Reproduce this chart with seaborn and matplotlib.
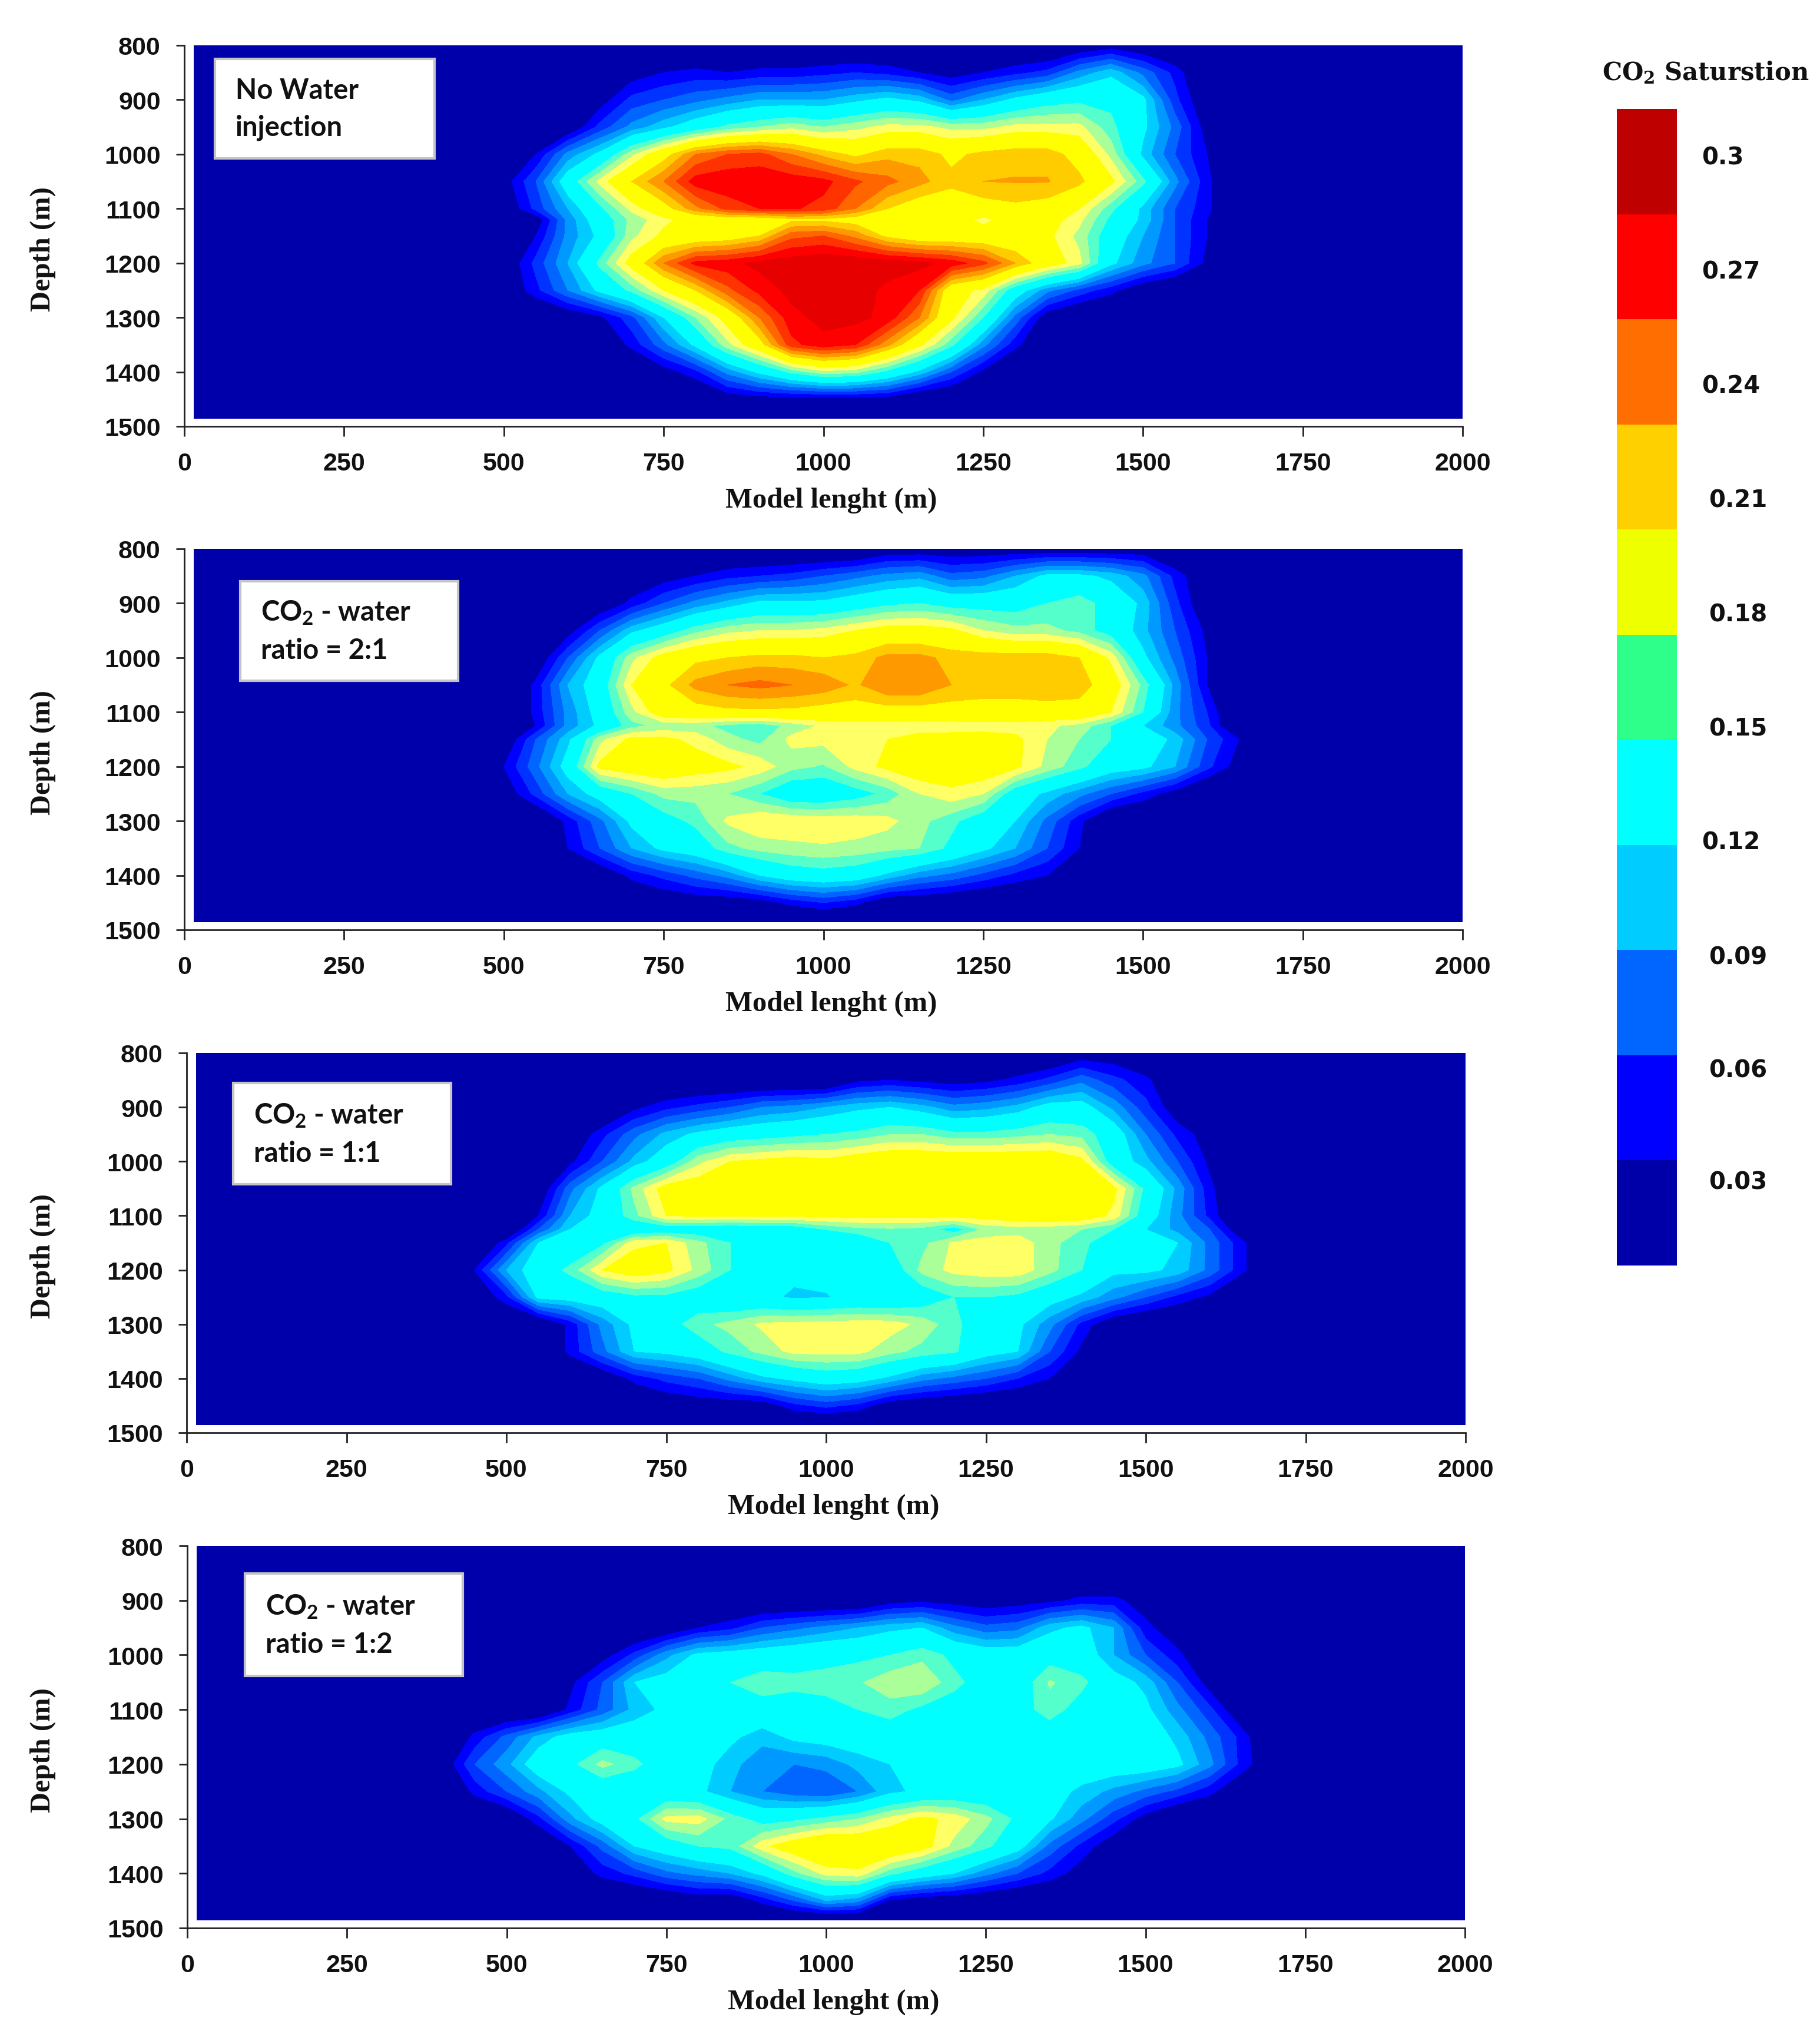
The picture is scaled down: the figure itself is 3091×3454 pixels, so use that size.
import numpy as np
import seaborn as sns
import matplotlib
matplotlib.use('Agg')
import matplotlib.pyplot as plt
from matplotlib.colors import ListedColormap
from matplotlib.patches import Rectangle

# Grid of the saturation maps (values below in percent saturation)
x_m = [400, 450, 500, 550, 600, 650, 700, 750, 800, 850, 900, 950, 1000, 1050,
       1100, 1150, 1200, 1250, 1300, 1350, 1400, 1450, 1500, 1550, 1600, 1650, 1700]
depth_no_water = [800, 850, 900, 950, 1000, 1050, 1100, 1120, 1150, 1200, 1250, 1300, 1350, 1400, 1450]
depth_2_1 = [800, 850, 900, 950, 1000, 1050, 1100, 1125, 1150, 1200, 1250, 1300, 1350, 1400, 1450]
depth_1_1 = [800, 850, 900, 950, 1000, 1050, 1100, 1125, 1150, 1200, 1250, 1300, 1350, 1400, 1450]
depth_1_2 = [800, 850, 900, 950, 1000, 1050, 1100, 1150, 1200, 1250, 1300, 1350, 1400, 1450]

no_water = [
    [0,0,0,0,0,0,0,0,0,0,0,0,0,0,0,0,0,0,0,0,1,2,1,0,0,0,0],
    [0,0,0,0,0,0,2,3,3.5,3,3.5,3.5,4,4.5,4,3,2,3,4,5,8,10,7,4,0,0,0],
    [0,0,0,0,0,2,5,6,7,8,9,9,9,10,11,10,7,9,11,12.5,13,13,11,5,1,0,0],
    [0,0,0,0,1,5,8,10,12,14,15,16,15,16,17,17,16,16,17,17,17,14,11,7,2,0,0],
    [0,0,0,3,8,11,16,20,24,25.5,26,24,22,20.5,22,22,20.5,21.5,22,22,20,16,10,6,3,0,0],
    [0,0,2,6,12,17,21,24,27.8,28.2,28.2,28,27.5,25.8,24.5,23,21.5,22.5,22.6,22.6,21.5,18.5,14,8,3.5,0,0],
    [0,0,1,5,9,13,17,20,23.5,26,27,27.2,26.5,24,21,19.5,19.5,20,20.5,20,18,14,10,6,3.5,0,0],
    [0,0,0,1.5,8,12,15.5,17.5,19,19.5,19.5,20.5,20.5,20,19,19,19,17.5,19,19,17,13,10,6,3,0,0],
    [0,0,0,3,8,11,16,18.5,19,19.5,21,25,25.5,23.5,20.5,19,19,19,19,18.5,16,12,9,6,3,0,0],
    [0,0,1,5,9,14,19,24,27.5,28,29,29.5,30,30,29.5,29,28,26,22.5,19.5,17,11,8,6,2.5,0,0],
    [0,0,1,4,7.5,11,14,18,21,25,27.5,29,30,29.5,28,27,19,17.5,12,8,5.5,3.5,1,0,0,0,0],
    [0,0,0,0,1,2.5,5.5,10.5,15,19,24,28,29,29,28,24,18.5,13.5,7,1.5,0,0,0,0,0,0,0],
    [0,0,0,0,0,0.5,3.5,7,11,16,20,26.5,28,27,23,18.5,14,8,3.5,0.5,0,0,0,0,0,0,0],
    [0,0,0,0,0,0,0,2,4,8,11,14,16,15.5,13,10,6,2.5,0,0,0,0,0,0,0,0,0],
    [0,0,0,0,0,0,0,0,0,1.5,2,2,2,2,2,0,0,0,0,0,0,0,0,0,0,0,0],
]

ratio_2_1 = [
    [0,0,0,0,0,0,0,0,0,0,0,0,0,0,1.5,1.5,1.5,1.5,1.5,1.5,1.5,1.5,1.5,0,0,0,0],
    [0,0,0,0,0,0,1,2,3,4,4.5,5,6,7,8,8.5,6.5,7,9,11,11,10,8,4,1,0,0],
    [0,0,0,0,0,1,3.5,6,8,9.5,11,11,11,12,13,13.5,12.5,12.5,12.5,13.5,14.5,12.5,10,5,1,0,0],
    [0,0,0,0,2,6,10,12,14.5,16,16.5,16.5,17,18,19,19,18.5,16.5,15.5,15.5,14.5,12.5,9.5,6,2.5,0,0],
    [0,0,0,1,6,11,16,19,20.5,21,21.5,21.5,21,21.5,23,23,22,22,22,22,21,17.5,11,7,3,0,0],
    [0,0,0,3.5,9,12,18,20.5,23,24,24.5,24,23.5,22.2,24,24,22.5,22,22,22.4,22,19.5,14.5,8.5,3,0,0],
    [0,0,0,3.5,8,11.5,16,19.5,20,20.5,20.5,20.5,20,20,20,20,20,20,20,20,20,18,13.5,8,4.5,0,0],
    [0,0,0,3,8,11,14.5,15.5,15.5,14.5,14,15.5,16.8,17,17,16.8,17,17.2,17.2,16.8,16,13.5,10.5,8,5,0,0],
    [0,0,1,6,10,16,18.5,18.5,17.5,15.5,14.5,17,17,17.3,18,19,19,19,18.5,16.5,15,13.5,12,10,6,3,0],
    [0,0,3,7,11.5,18.5,19.5,20,19,18.5,17.5,15.5,14.8,17,18.5,19.5,19.5,19.5,18.5,16,14,11.8,11,9,5,2,0],
    [0,0,1.5,5,9,11.5,13.5,15.5,15.5,15,13.5,11.5,11.5,12.5,14,16.5,17.5,16.5,12,10,8,6,4,2,0,0,0],
    [0,0,0,0,3.5,7,11,12.5,14,16.8,18,17.8,17.5,17.5,17,15.5,14,12,10.5,7,3.5,0,0,0,0,0,0],
    [0,0,0,0,3,6,9,11,12,14.5,15.5,16,16.3,16,15.5,15,13,11,9,6,3,0.5,0,0,0,0,0],
    [0,0,0,0,0,1,3.5,5,6.5,8,10.5,12,12.5,12,10,8,7,5.5,4,3,1,0,0,0,0,0,0],
    [0,0,0,0,0,0,0.5,1,1.5,1.5,2,3.5,4.5,3.5,1,1,0.5,0,0,0,0,0,0,0,0,0,0],
]

ratio_1_1 = [
    [0,0,0,0,0,0,0,0,0,0,0,0,0,0,0,0,0,0,0,0,1.5,1.5,0,0,0,0,0],
    [0,0,0,0,0,0,0,0,0,0,0,0,0,2.5,3,2.5,2,2.5,3.5,5,7,5,3.5,0,0,0,0],
    [0,0,0,0,0,0,2.5,4,5,6,7.5,8,9,10,10.5,9.5,8,8.5,9.5,11.5,11.5,8.5,5,1.5,0,0,0],
    [0,0,0,0,1,4,7,9.5,11,12,12.5,13,13.5,14,15,15,14,14,14.5,15,14.5,12,7.5,4,2,0,0],
    [0,0,0,0,2.5,6,9.5,12,16,18,18.5,19,18.5,19.5,20,20,20,20,20,20,18.5,12,9.5,6,2.5,0,0],
    [0,0,0,1,7,11,15.5,19,19.5,20,20,20,20,20,20,20,20,20,20,20,20,18.5,13,8.5,3.5,0,0],
    [0,0,0,3,9,11.5,14.5,18,18.3,18.3,18.3,18.3,18.5,18.5,18.5,18.5,18.6,18.8,19.5,20,19.5,17.5,12,8,4,0,0],
    [0,0,0,6,10.5,11.5,11.5,12,12,11.5,12,12,13.6,14.5,14.8,14.5,12.5,15.5,15.8,15.5,15,13.5,10.5,8.5,6,1,0],
    [0,0,4,10.5,11.5,13,17.5,18,15.5,13.5,11,11,11,11.5,13.5,14.5,16.8,17.2,17.5,15.5,14,12,11,10.5,7,3.5,0],
    [0,3,9,12,14,18,19.5,18.5,16,13.5,11,11,11,11,12,15.5,17,17.5,17.5,15.5,13.5,11,11,10,7,3.5,0],
    [0,1,4,11,11.5,12,13,13,12,11,11,10.2,10.4,11,10.8,12,13.5,13.5,13,11.5,10,8,6,4,2.5,0,0],
    [0,0,0,0,3.5,8,11,12.5,14.5,15.5,16.8,17,17.3,17.3,17.3,16,14,12,11,8,4,1,0,0,0,0,0],
    [0,0,0,0,3.5,7,10.5,11,12,14,15.5,17,17,17,15.5,14.5,13.8,11.5,10.5,6,2.5,0,0,0,0,0,0],
    [0,0,0,0,0,1,3.5,5,6,8,10,11,12,11.5,10,8,7,6,4.5,3,1,0,0,0,0,0,0],
    [0,0,0,0,0,0,0.5,1,1.5,1.5,1.5,4,5,4,1.5,1,0.5,0,0,0,0,0,0,0,0,0,0],
]

ratio_1_2 = [
    [0,0,0,0,0,0,0,0,0,0,0,0,0,0,0,0,0,0,0,0,0,0,0,0,0,0,0],
    [0,0,0,0,0,0,0,0,0,0,0,0,0,0,0,0,0,0,0,0,0,0,0,0,0,0,0],
    [0,0,0,0,0,0,0,0,0,0,0,0,0,0,2,2.5,2,1.5,2,2.5,3.5,3.5,2,0,0,0,0],
    [0,0,0,0,0,0,0,1,3,4,6,7,8,9,10,10.5,8,6.5,7,10,11,9,3.5,1.5,0,0,0],
    [0,0,0,0,0,2,5,8.5,11,11.5,12,12.5,13,13,13.5,14.5,13,12,12,12.5,12,9,6,3.5,0.5,0,0],
    [0,0,0,0,2.5,6,10.5,11.5,12.5,13.5,14.5,14,14,14.8,16,16.5,14,12.5,12,15.2,14,11.5,10,6,2,0,0],
    [0,0,0,0,3.5,6.5,9.5,11,12,12,12.5,12.5,13,13.5,14.3,13,12.5,12,12.5,14.4,12.5,12,11,8,5,1,0],
    [0,3.5,6.5,9.5,11.5,12,12,12,11.5,11,9.5,11,11.5,12,12,12,12,12,12,12,12,12,12,10,7,4,0],
    [1.5,6,8.5,12,13,15.5,14,12,11.5,9.5,8,7.5,8,9.5,10.5,11.5,12,12.5,12.5,12.5,12,12,12,11,8,4,1],
    [0,3.5,6,8.5,11,11.5,11.5,11.5,11,9,7.5,6.5,6,7.5,10,11,11.5,11.5,11.5,11.5,10,8.5,7,5.5,3.5,1,0],
    [0,0,0.5,4,8.5,11.5,13,17,17.2,14.5,12.5,13,14,15,17,18.5,17.5,15.5,13,10.8,8,5,2,0,0,0,0],
    [0,0,0,0,3,6.5,10.5,12,13.5,14,17.5,19.5,21,20.5,20.5,19,16,14,11.5,7,4,1.5,0,0,0,0,0],
    [0,0,0,0,1.5,3.5,5,7,8,9,11,14.5,17,17.5,14,12,10.5,8,6,4,2,0,0,0,0,0,0],
    [0,0,0,0,0,0,0,0.5,1.5,1,3.5,6,9,8,2.5,1.5,1,0.5,0,0,0,0,0,0,0,0,0],
]

panel_data = [no_water, ratio_2_1, ratio_1_1, ratio_1_2]
panel_depths = [depth_no_water, depth_2_1, depth_1_1, depth_1_2]
panel_notes = ['No Water\ninjection', 'CO$_2$ - water\nratio = 2:1',
               'CO$_2$ - water\nratio = 1:1', 'CO$_2$ - water\nratio = 1:2']

x_ticks = [0, 250, 500, 750, 1000, 1250, 1500, 1750, 2000]
y_ticks = [800, 900, 1000, 1100, 1200, 1300, 1400, 1500]

# Contour bands
band_levels = [-1, 3, 4.5, 6, 7.5, 9, 10.5, 13.5, 15, 16.5, 18, 21, 22.5, 24, 25.5, 27, 28.5, 45]
band_colors = ['#0000AA', '#0000FF', '#0033FF', '#0066FF', '#0099FF', '#00CCFF', '#00FFFF',
               '#55FFCC', '#AAFF99', '#FFFF66', '#FFFF00', '#FFCC00', '#FF9900', '#FF6600',
               '#FF3300', '#FF0000', '#E60000']

# Colour key, top to bottom
key_colors = ['#BF0000', '#FF0000', '#FF6E00', '#FFD000', '#EEFF00', '#2EFF8A',
              '#00FFFF', '#00CCFF', '#0066FF', '#0000FF', '#0000A8']
key_labels = ['0.3', '0.27', '0.24', '0.21', '0.18', '0.15', '0.12', '0.09', '0.06', '0.03']

W, H = 3091, 3455
sns.set_theme(style='ticks')
plt.rcParams['mathtext.default'] = 'regular'

fig = plt.figure(figsize=(W / 100, H / 100), dpi=100, facecolor='white')


def fx(px):
    return px / W


def fy(py):
    return 1 - py / H


# pixel frames of the four axes: left, right, top, bottom
frames = [(313, 2484, 78, 725), (313, 2484, 933, 1580), (317, 2489, 1789, 2434), (318, 2488, 2626, 3275)]
note_boxes = [(365, 738, 101, 270), (408, 778, 988, 1157), (396, 766, 1840, 2012), (416, 786, 2673, 2847)]

grid_x = np.array([15] + x_m + [2000])

for data, depths, note, frame, box in zip(panel_data, panel_depths, panel_notes, frames, note_boxes):
    l, r, t, b = frame
    ax = fig.add_axes([fx(l), fy(b), fx(r - l), (b - t) / H])
    # pad the maps with the background out to the edge of the coloured area
    grid_y = np.array(depths + [1485])
    z = np.pad(np.array(data, dtype=float), ((0, 1), (1, 1)))
    ax.contourf(grid_x, grid_y, z, levels=band_levels, colors=band_colors, antialiased=False)
    ax.set_xlim(0, 2000)
    ax.set_ylim(1500, 800)
    ax.set_xticks(x_ticks)
    ax.set_yticks(y_ticks)
    ax.tick_params(axis='x', length=12, width=2, color='#222222', pad=19)
    ax.tick_params(axis='y', length=10, width=2, color='#222222', pad=19)
    for lab in ax.get_xticklabels() + ax.get_yticklabels():
        lab.set_fontfamily('Liberation Sans')
        lab.set_fontweight('bold')
        lab.set_fontsize(31)
        lab.set_color('#111111')
    sns.despine(ax=ax)
    for s in ['left', 'bottom']:
        ax.spines[s].set_linewidth(2)
        ax.spines[s].set_color('#222222')

    fig.text(fx((l + r) / 2 + 13), fy(b + 125), 'Model lenght (m)', ha='center', va='center',
             family='Liberation Serif', weight='bold', fontsize=35, color='#111111')
    fig.text(fx(73), fy((t + b) / 2 + 22), 'Depth (m)', ha='center', va='center', rotation=90,
             family='Liberation Serif', weight='bold', fontsize=35, color='#111111')

    bl, br, bt, bb = box
    fig.add_artist(Rectangle((fx(bl), fy(bb)), (br - bl) / W, (bb - bt) / H, transform=fig.transFigure,
                             facecolor='white', edgecolor='#c4c4c4', linewidth=3))
    fig.text(fx(bl + 35), fy((bt + bb) / 2), note, ha='left', va='center', linespacing=1.52,
             family='Lato', weight='bold', fontsize=34, color='#111111')

# colour key
cax = fig.add_axes([fx(2746), fy(2150), fx(102), (2150 - 186) / H])
key_rows = np.arange(len(key_colors)).reshape(-1, 1)
sns.heatmap(key_rows, cmap=ListedColormap(key_colors), cbar=False, ax=cax, xticklabels=False, yticklabels=False)

key_x = [2890, 2890, 2890, 2902, 2902, 2902, 2890, 2902, 2902, 2902]
key_y = [268, 462, 656, 850, 1044, 1238, 1432, 1626, 1819, 2009]
for lab, kx, ky in zip(key_labels, key_x, key_y):
    fig.text(fx(kx), fy(ky), lab, ha='left', va='center', family='DejaVu Sans', weight='bold',
             fontsize=29, color='#111111')

fig.text(fx(2897), fy(124), 'CO$_2$ Saturstion', ha='center', va='center', family='DejaVu Serif',
         weight='bold', fontsize=30, color='#111111')

plt.savefig('out.png', dpi=100, facecolor='white')
plt.close()
